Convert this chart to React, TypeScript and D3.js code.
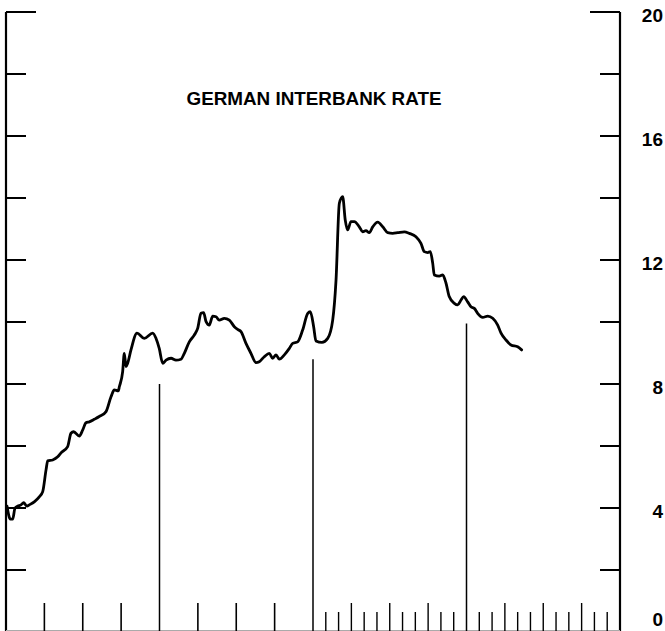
import * as d3 from 'd3';

// months since the start of the first year on the chart, and the rate (%) read at that point
const months = [
  0.08, 0.34, 0.52, 0.70, 0.91, 1.17, 1.38, 1.64, 1.82, 2.21, 2.60, 2.87, 3.13, 3.26, 3.65, 4.04,
  4.30, 4.82, 5.08, 5.29, 5.73, 6.00, 6.25, 6.51, 6.90, 7.29, 7.82, 8.21, 8.47, 8.78, 8.86, 9.12,
  9.25, 9.38, 9.51, 9.77, 10.24, 10.81, 11.47, 11.73, 11.98, 12.25, 12.51, 12.90, 13.29, 13.68,
  13.94, 14.33, 14.72, 14.99, 15.24, 15.45, 15.64, 15.89, 16.16, 16.42, 16.67, 17.07, 17.46, 17.85,
  18.11, 18.37, 18.76, 19.15, 19.54, 19.80, 20.19, 20.58, 20.85, 21.11, 21.37, 21.76, 22.15, 22.41,
  22.80, 23.19, 23.59, 23.79, 24.05, 24.23, 24.70, 25.15, 25.54, 25.80, 26.06, 26.32, 26.52, 26.71,
  26.97, 27.23, 27.62, 27.88, 28.14, 28.40, 28.67, 29.06, 29.45, 29.84, 30.23, 30.62, 31.14, 31.53,
  32.05, 32.44, 32.70, 32.97, 33.17, 33.36, 33.48, 33.87, 34.14, 34.40, 34.65, 35.05, 35.31, 35.57,
  35.78, 36.09, 36.35, 36.61, 36.87, 37.27, 37.66, 38.05, 38.44, 38.70, 39.09, 39.48, 40.00, 40.31
];

const rates = [
  4.06, 3.64, 3.64, 3.99, 4.06, 4.10, 4.17, 4.06, 4.10, 4.20, 4.36, 4.53, 5.23, 5.52, 5.55, 5.65,
  5.78, 5.98, 6.41, 6.46, 6.32, 6.52, 6.75, 6.78, 6.86, 6.95, 7.11, 7.59, 7.81, 7.78, 7.91, 8.40,
  8.99, 8.56, 8.67, 9.10, 9.64, 9.47, 9.64, 9.47, 9.15, 8.67, 8.77, 8.83, 8.77, 8.80,
  8.99, 9.36, 9.58, 9.80, 10.28, 10.30, 10.01, 9.90, 10.19, 10.17, 10.06, 10.12, 10.06, 9.85,
  9.76, 9.69, 9.31, 8.99, 8.69, 8.72, 8.88, 8.99, 8.83, 8.94, 8.80, 8.94, 9.15, 9.31,
  9.36, 9.74, 10.28, 10.33, 9.85, 9.39, 9.34, 9.47, 10.06, 11.35, 13.83, 14.04, 13.29, 12.97,
  13.24, 13.24, 13.07, 12.91, 12.95, 12.88, 13.07, 13.22, 13.07, 12.88, 12.86, 12.88, 12.91, 12.86,
  12.75, 12.54, 12.27, 12.24, 12.27, 11.89, 11.52, 11.48, 11.52, 11.25, 10.82, 10.60, 10.55, 10.71,
  10.82, 10.65, 10.49, 10.44, 10.28, 10.15, 10.19, 10.12, 9.90, 9.64, 9.42, 9.26, 9.20, 9.10
];

// year boundaries (months) and the rate level where each separator stops
const yearBreaks = [12, 24, 36];
const breakTops = [8.0, 8.8, 9.95];

const rateTicks = [0, 2, 4, 6, 8, 10, 12, 14, 16, 18, 20];
const rateLabels = [0, 4, 8, 12, 16, 20];

// first two years are marked by quarter, last two by month
const quarterTicks = [3, 6, 9, 15, 18, 21];
const monthTicks = d3.range(25, 48).filter((m) => m !== 36);

const TITLE = 'GERMAN INTERBANK RATE';

const W = 665;
const H = 631;
const FONT = '"Liberation Sans", Arial, Helvetica, sans-serif';

export default function App() {
  const left = 6;
  const right = 620;
  const top = 12;
  const bottom = 632;

  const x = d3.scaleLinear().domain([0, 48]).range([left, right]);
  const y = d3.scaleLinear().domain([0, 20]).range([bottom, top]);

  const line = d3.line<number>()
    .x((_, i) => x(months[i]))
    .y((d) => y(d))
    .curve(d3.curveMonotoneX);

  const tickLen = (v: number) => (v === 20 ? 30 : 20);

  return (
    <svg width={W} height={H} style={{ position: 'absolute', left: 0, top: 0, background: '#fff' }}>
      <rect width={W} height={H} fill="#fff" />

      {/* frame */}
      <line x1={left} x2={left} y1={top} y2={H} stroke="#000" strokeWidth={2.2} />
      <line x1={right} x2={right} y1={top} y2={H} stroke="#000" strokeWidth={2.2} />
      <line x1={left} x2={right} y1={H - 0.5} y2={H - 0.5} stroke="#aaa" strokeWidth={1} />

      {/* rate ticks on both sides */}
      {rateTicks.map((v) => (
        <g key={v}>
          <line x1={left} x2={left + tickLen(v)} y1={y(v)} y2={y(v)} stroke="#000" strokeWidth={2} />
          <line x1={right - tickLen(v)} x2={right} y1={y(v)} y2={y(v)} stroke="#000" strokeWidth={2} />
        </g>
      ))}
      {/* labels sit a little below their tick; the bottom one is kept inside the picture */}
      {rateLabels.map((v) => (
        <text key={v} x={663} y={Math.min(y(v) + 3, H - 12)} textAnchor="end" dominantBaseline="central"
          fontFamily={FONT} fontWeight="bold" fontSize={19}>
          {v}
        </text>
      ))}

      {/* time ticks */}
      {quarterTicks.map((m) => (
        <line key={'q' + m} x1={x(m)} x2={x(m)} y1={H} y2={H - 28} stroke="#000" strokeWidth={1.6} />
      ))}
      {monthTicks.map((m) => (
        <line key={'m' + m} x1={x(m)} x2={x(m)} y1={H} y2={H - (m % 3 === 0 ? 28 : 19)}
          stroke="#000" strokeWidth={1.4} />
      ))}
      {yearBreaks.map((m, i) => (
        <line key={'y' + m} x1={x(m)} x2={x(m)} y1={H} y2={y(breakTops[i])} stroke="#000" strokeWidth={1.5} />
      ))}

      <path d={line(rates) ?? ''} fill="none" stroke="#000" strokeWidth={2.8}
        strokeLinejoin="round" strokeLinecap="round" />

      <text x={314} y={99} textAnchor="middle" dominantBaseline="central" fontFamily={FONT}
        fontWeight="bold" fontSize={18} textLength={255} lengthAdjust="spacingAndGlyphs">
        {TITLE}
      </text>
    </svg>
  );
}
